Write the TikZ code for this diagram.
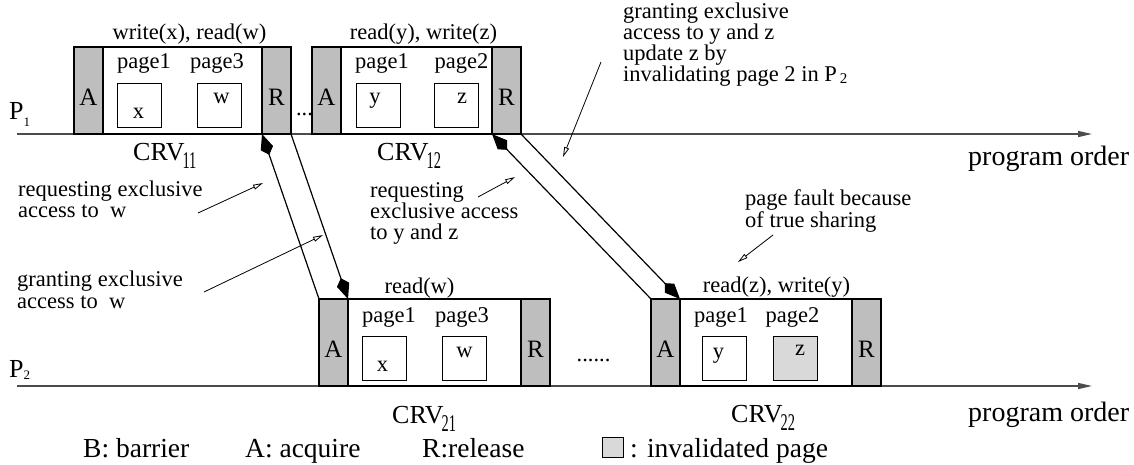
\documentclass[tikz,border=0pt]{standalone}
\usepackage{fontspec}
\setmainfont{Liberation Serif}
\usepackage{graphicx}
\usetikzlibrary{arrows.meta}
\newcommand{\fs}[1]{\fontsize{#1}{#1}\selectfont}
\newcommand{\crvsub}[1]{CRV\kern-2pt\raisebox{-8pt}{\scalebox{0.6}[1]{\fs{24}#1}}}
\definecolor{syncgray}{HTML}{BEBEBE}
\definecolor{invgray}{HTML}{D9D9D9}
\begin{document}
\begin{tikzpicture}[x=1pt,y=-1pt,
  small/.style={font=\fs{22.5}, inner sep=0pt, anchor=base},
  smallw/.style={font=\fs{22.5}, inner sep=0pt, anchor=base west},
  big/.style={font=\fs{27.5}, inner sep=0pt, anchor=base west},
  crvlabel/.style={font=\fs{26}, inner sep=0pt, anchor=base west},
  crvbox/.style={draw, line width=1.1pt, fill=white, minimum width=#1, minimum height=87pt, anchor=south west, inner sep=0pt, outer sep=0pt},
  syncbox/.style={draw, line width=1.1pt, fill=syncgray, minimum width=29pt, minimum height=87pt, anchor=south west, inner sep=0pt, outer sep=0pt, font=\fs{25}, text height=30pt, text depth=0pt},
  pagebox/.style={draw, line width=1pt, fill=white, minimum width=44pt, minimum height=44pt, anchor=north west, inner sep=0pt, outer sep=0pt},
  timeline/.style={draw=black!70, line width=1.4pt, -{Triangle[length=14pt,width=6pt]}},
  link/.style={line width=1.2pt, -{Kite[length=22pt,width=13pt,inset=7pt]}},
  note/.style={line width=0.8pt, -{Triangle[open,length=10pt,width=5pt]}}
]
\useasboundingbox (0,0) rectangle (1134,464);

% time lines
\coordinate (p1s) at (17,134);
\coordinate (p1e) at (1092,134);
\coordinate (p2s) at (17,386);
\coordinate (p2e) at (1092,386);
\draw[timeline] (p1s) -- (p1e);
\draw[timeline] (p2s) -- (p2e);

% process labels
\node[inner sep=0pt, anchor=base west, font=\fs{26}] (P1) at (9,119) {P\raisebox{-7pt}{\fs{13}1}};
\node[inner sep=0pt, anchor=base west, font=\fs{26}] (P2) at (9,377) {P\raisebox{-2pt}{\fs{13}2}};
\node[big, font=\fs{28}] (po1) at (968,165) {program order};
\node[big, font=\fs{28}] (po2) at (968,421) {program order};

% CRV11
\node[crvbox=217pt] (c11) at (74,134) {};
\node[syncbox] (a11) at (74,134) {A};
\node[syncbox] (r11) at (262,134) {R};
\node[pagebox] (px11) at (117,83) {};
\node[pagebox] (pw11) at (197,83) {};
\node[small] (op11) at (189.5,39) {write(x), read(w)};
\node[small] (pg11a) at (144,68) {page1};
\node[small] (pg11b) at (217,68) {page3};
\node[small] (vx11) at (138.5,118) {x};
\node[small] (vw11) at (221.5,103) {w};
\node[crvlabel] (l11) at (133,160) {\crvsub{11}};

\node[small] (dots1) at (304.5,115) {...};

% CRV12
\node[crvbox=209pt] (c12) at (312,134) {};
\node[syncbox] (a12) at (312,134) {A};
\node[syncbox] (r12) at (492,134) {R};
\node[pagebox] (py12) at (356,83) {};
\node[pagebox] (pz12) at (434,83) {};
\node[small] (op12) at (423.5,39) {read(y), write(z)};
\node[small] (pg12a) at (382,68) {page1};
\node[small] (pg12b) at (461.5,68) {page2};
\node[small] (vy12) at (375,103) {y};
\node[small] (vz12) at (462,103) {z};
\node[crvlabel] (l12) at (377,160) {\crvsub{12}};

% CRV21
\node[crvbox=231pt] (c21) at (319,386) {};
\node[syncbox] (a21) at (319,386) {A};
\node[syncbox] (r21) at (521,386) {R};
\node[pagebox] (px21) at (362,336) {};
\node[pagebox] (pw21) at (442,336) {};
\node[small] (op21) at (419.5,293) {read(w)};
\node[small] (pg21a) at (389,322) {page1};
\node[small] (pg21b) at (462,322) {page3};
\node[small] (vx21) at (382.5,371) {x};
\node[small] (vw21) at (464.5,357) {w};
\node[crvlabel] (l21) at (392,423) {\crvsub{21}};

\node[small] (dots2) at (593.5,361) {......};

% CRV22
\node[crvbox=230pt] (c22) at (651,386) {};
\node[syncbox] (a22) at (651,386) {A};
\node[syncbox] (r22) at (852,386) {R};
\node[pagebox] (py22) at (702,336) {};
\node[pagebox, fill=invgray] (pz22) at (773,336) {};
\node[small] (op22) at (776.5,292) {read(z), write(y)};
\node[small] (pg22a) at (721,322) {page1};
\node[small] (pg22b) at (792.5,322) {page2};
\node[small] (vy22) at (718.5,358) {y};
\node[small] (vz22) at (800,355) {z};
\node[crvlabel] (l22) at (731,422) {\crvsub{22}};

% message links
\draw[link] (a21.north west) -- (r11.south west);
\draw[link] (r11.south east) -- (a21.north east);
\draw[link] (a22.north west) -- (r12.south west);
\draw[link] (r12.south east) -- (a22.north east);

% annotations
\node[smallw] (n1a) at (18,196) {requesting exclusive};
\node[smallw] (n1b) at (18,217) {access to \ w};
\coordinate (t1) at (198,213);
\coordinate (h1) at (263,183);
\draw[note] (t1) -- (h1);

\node[smallw] (n2a) at (17,286) {granting exclusive};
\node[smallw] (n2b) at (17,308) {access to \ w};
\coordinate (t2) at (204,292);
\coordinate (h2) at (323,235);
\draw[note] (t2) -- (h2);

\node[smallw] (n3a) at (370,197) {requesting};
\node[smallw] (n3b) at (370,218) {exclusive access};
\node[smallw] (n3c) at (370,239) {to y and z};
\coordinate (t3) at (478,197);
\coordinate (h3) at (515,177);
\draw[note] (t3) -- (h3);

\node[smallw] (n4a) at (623,18) {granting exclusive};
\node[smallw] (n4b) at (623,39) {access to y and z};
\node[smallw] (n4c) at (623,60) {update z by};
\node[smallw] (n4d) at (623,81) {invalidating page 2 in P\kern3pt\raisebox{-2pt}{\fs{15}2}};
\coordinate (t4) at (601,62);
\coordinate (h4) at (563,157);
\draw[note] (t4) -- (h4);

\node[smallw] (n5a) at (745,205) {page fault because};
\node[smallw] (n5b) at (745,227) {of true sharing};
\coordinate (t5) at (773,235);
\coordinate (h5) at (738,262);
\draw[note] (t5) -- (h5);

% legend
\node[big] (lgB) at (83,457) {B: barrier};
\node[big] (lgA) at (245,457) {A: acquire};
\node[big] (lgR) at (422,457) {R:release};
\node[draw, line width=1pt, fill=invgray, minimum width=21pt, minimum height=20pt, anchor=north west, inner sep=0pt] (lgbox) at (602,437) {};
\node[big] (lgI) at (630,457) {: invalidated page};
\end{tikzpicture}
\end{document}
